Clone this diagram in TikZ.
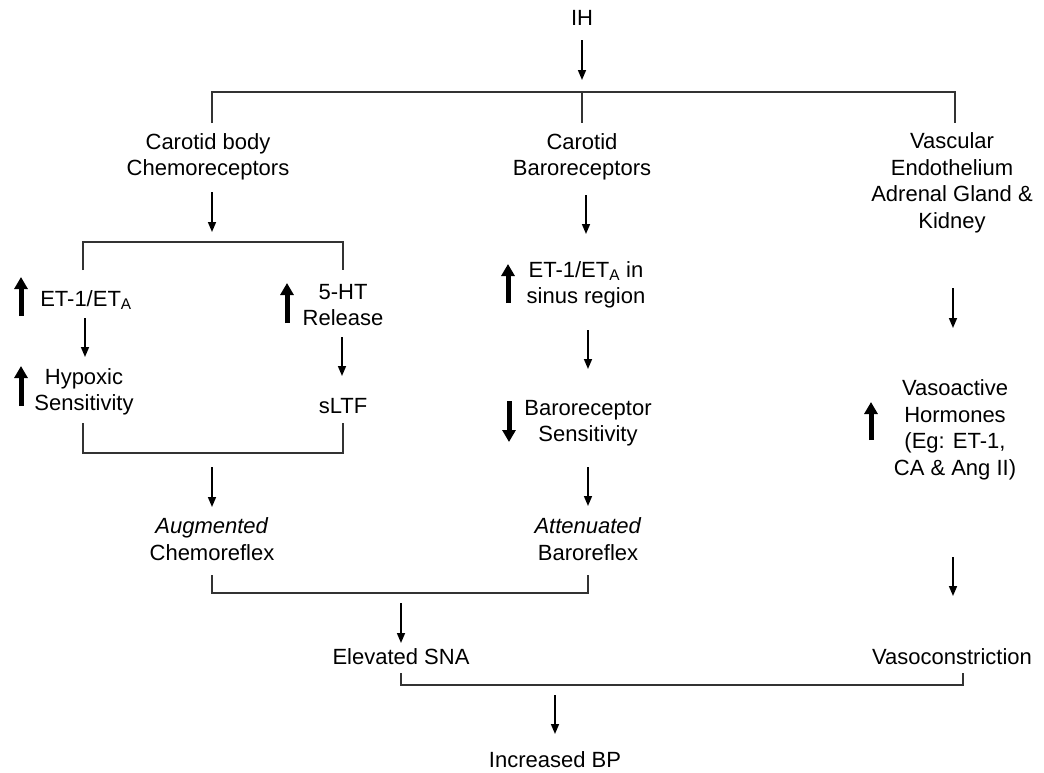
\documentclass[tikz,border=0pt]{standalone}
\usepackage{fontspec}
\setmainfont{Liberation Sans}
\usetikzlibrary{arrows.meta}
\begin{document}
\begin{tikzpicture}[x=1pt,y=-1pt,
  txt/.style={align=center,inner sep=0pt,font=\fontsize{22}{26.5}\selectfont},
  flow/.style={-{Triangle[width=8pt,length=10pt]},line width=1.6pt,black},
  bigup/.style={-{Triangle[width=13pt,length=12pt]},line width=5pt,black},
  bar/.style={line width=1.1pt,black!80}]
\useasboundingbox[fill=white] (0,0) rectangle (1044,772);

% text nodes
\node[txt] (ih) at (582,18) {IH};
\node[txt] (cb) at (208,157) {Carotid body\\Chemoreceptors};
\node[txt] (cbar) at (582,157) {Carotid\\Baroreceptors};
\node[txt] (vasc) at (952,183) {Vascular\\Endothelium\\Adrenal Gland \&\\Kidney};
\node[txt] (et1) at (86,300) {ET-1/ET\textsubscript{A}};
\node[txt] (ht) at (343,305) {5-HT\\Release};
\node[txt] (hyp) at (84,392) {Hypoxic\\Sensitivity};
\node[txt] (sltf) at (343,406) {sLTF};
\node[txt] (etsin) at (586,285) {ET-1/ET\textsubscript{A} in\\sinus region};
\node[txt] (brs) at (588,423) {Baroreceptor\\Sensitivity};
\node[txt] (vaso) at (955,430) {Vasoactive\\Hormones\\(Eg: ET-1,\\CA \& Ang II)};
\node[txt] (aug) at (212,539) {\textit{Augmented}\\Chemoreflex};
\node[txt] (att) at (588,539) {\textit{Attenuated}\\Baroreflex};
\node[txt] (sna) at (401,657) {Elevated SNA};
\node[txt] (vcon) at (952,657) {Vasoconstriction};
\node[txt] (bp) at (555,760) {Increased BP};

% bracket coordinates
\coordinate (b1l) at (212,92);  \coordinate (b1m) at (582,92);  \coordinate (b1r) at (955,92);
\coordinate (b1ld) at (212,123); \coordinate (b1md) at (582,123); \coordinate (b1rd) at (955,123);
\coordinate (b2l) at (83,242); \coordinate (b2r) at (343,242);
\coordinate (b2ld) at (83,270); \coordinate (b2rd) at (343,270);
\coordinate (b3l) at (83,453); \coordinate (b3r) at (343,453);
\coordinate (b3lu) at (83,423); \coordinate (b3ru) at (343,423);
\coordinate (b4l) at (212,593); \coordinate (b4r) at (588,593);
\coordinate (b4lu) at (212,575); \coordinate (b4ru) at (588,575);
\coordinate (b5l) at (401,685); \coordinate (b5r) at (963,685);
\coordinate (b5lu) at (401,673); \coordinate (b5ru) at (963,673);

\draw[bar] (b1ld) -- (b1l) -- (b1r) -- (b1rd);
\draw[bar] (b1m) -- (b1md);
\draw[bar] (b2ld) -- (b2l) -- (b2r) -- (b2rd);
\draw[bar] (b3lu) -- (b3l) -- (b3r) -- (b3ru);
\draw[bar] (b4lu) -- (b4l) -- (b4r) -- (b4ru);
\draw[bar] (b5lu) -- (b5l) -- (b5r) -- (b5ru);

% flow arrows
\coordinate (a1s) at (582,40);  \coordinate (a1e) at (582,80);
\coordinate (a2s) at (212,192); \coordinate (a2e) at (212,232);
\coordinate (a3s) at (85,318);  \coordinate (a3e) at (85,357);
\coordinate (a4s) at (342,337); \coordinate (a4e) at (342,376);
\coordinate (a5s) at (212,467); \coordinate (a5e) at (212,507);
\coordinate (a6s) at (586,195); \coordinate (a6e) at (586,234);
\coordinate (a7s) at (588,330); \coordinate (a7e) at (588,369);
\coordinate (a8s) at (588,467); \coordinate (a8e) at (588,506);
\coordinate (a9s) at (953,288); \coordinate (a9e) at (953,328);
\coordinate (a10s) at (953,557); \coordinate (a10e) at (953,596);
\coordinate (a11s) at (401,603); \coordinate (a11e) at (401,643);
\coordinate (a12s) at (555,695); \coordinate (a12e) at (555,734);
\foreach \i in {1,...,12} {\draw[flow] (a\i s) -- (a\i e);}

% big indicator arrows
\coordinate (u1s) at (21,316); \coordinate (u1e) at (21,277);
\coordinate (u2s) at (21,406); \coordinate (u2e) at (21,366);
\coordinate (u3s) at (287,323); \coordinate (u3e) at (287,283);
\coordinate (u4s) at (508,303); \coordinate (u4e) at (508,264);
\coordinate (u5s) at (509,401); \coordinate (u5e) at (509,442);
\coordinate (u6s) at (871,440); \coordinate (u6e) at (871,402);
\foreach \i in {1,...,6} {\draw[bigup] (u\i s) -- (u\i e);}
\end{tikzpicture}
\end{document}
